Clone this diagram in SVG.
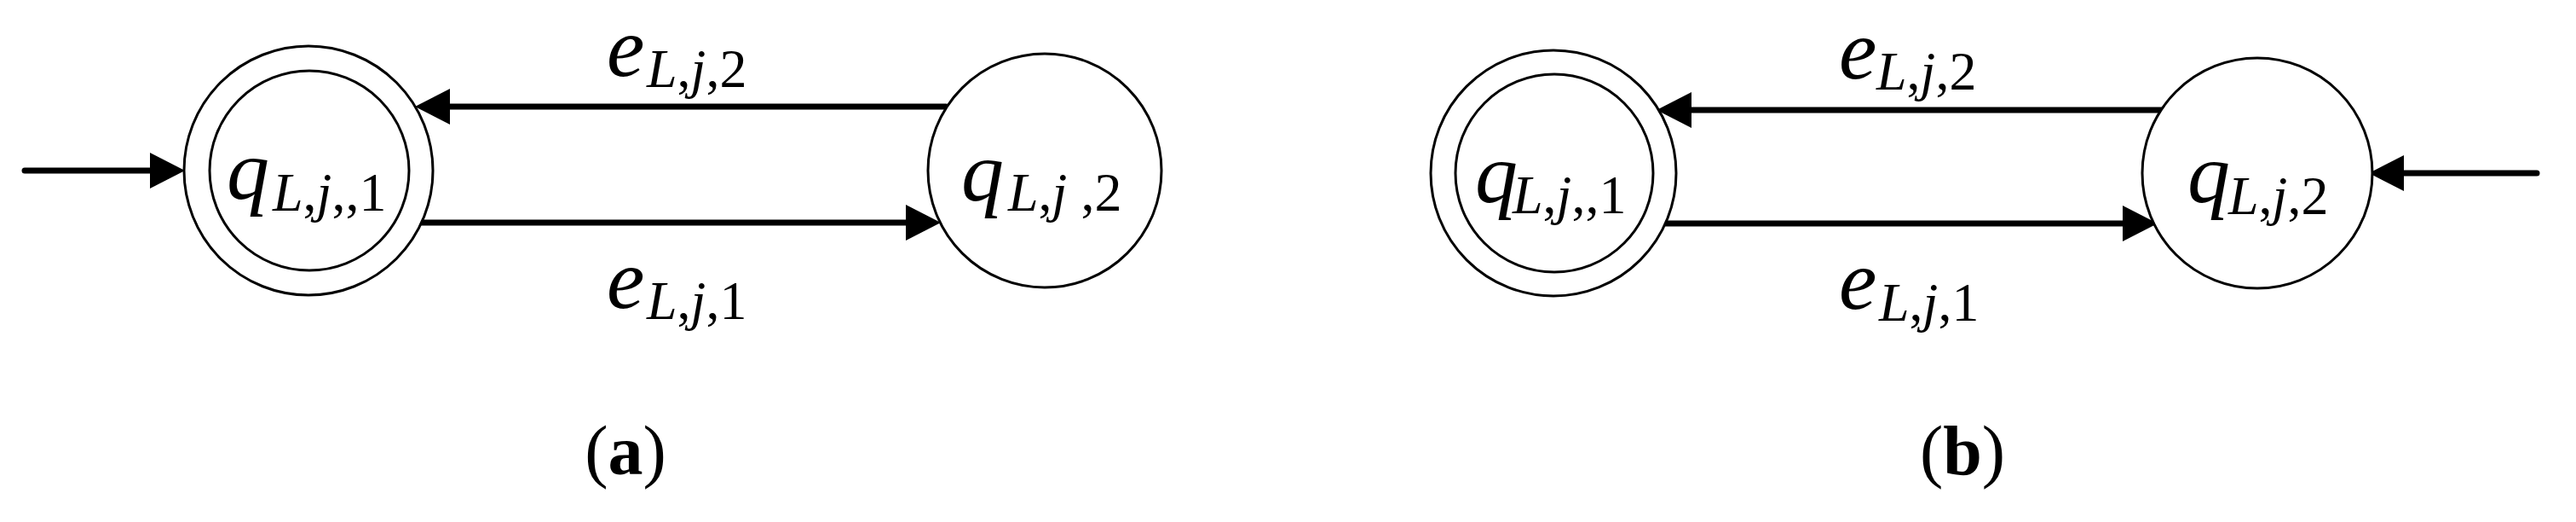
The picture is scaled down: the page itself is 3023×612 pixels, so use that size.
<svg xmlns="http://www.w3.org/2000/svg" width="3023" height="612" viewBox="0 0 3023 612">
<style>
.st{fill:#fff;stroke:#000;stroke-width:3}
.cn{stroke:#000;stroke-width:7;stroke-linecap:round;fill:none;marker-end:url(#ah)}
.m{font-family:"Liberation Serif","Times New Roman",serif;font-style:italic;fill:#000}
.big{font-size:100px}
.sub{font-size:64px}
.up{font-style:normal}
.cap{font-family:"Liberation Serif","Times New Roman",serif;font-size:82px;fill:#000;text-anchor:middle}
</style>
<defs>
<marker id="ah" markerUnits="userSpaceOnUse" markerWidth="42" markerHeight="44" refX="0" refY="21" orient="auto" overflow="visible">
<path d="M0,0 L41,21 L0,42 Z" fill="#000"/>
</marker>
</defs>
<rect width="3023" height="612" fill="#fff"/>
<g id="connectors">
<line class="cn" x1="29" y1="200" x2="176" y2="200"/>
<line class="cn" x1="1110" y1="125" x2="528" y2="125"/>
<line class="cn" x1="487" y1="261" x2="1063" y2="261"/>
<line class="cn" x1="2977" y1="203" x2="2821" y2="203"/>
<line class="cn" x1="2536" y1="129" x2="1985" y2="129"/>
<line class="cn" x1="1942" y1="262" x2="2491" y2="262"/>
</g>
<g id="a_q1">
<circle class="st" cx="362" cy="200" r="146"/>
<circle class="st" cx="363" cy="200" r="117"/>
<text class="m" x="266" y="233"><tspan class="big">q</tspan><tspan class="sub" x="320" y="247">L<tspan class="up">,</tspan>j<tspan class="up">,,1</tspan></tspan></text>
</g>
<g id="a_q2">
<circle class="st" cx="1226" cy="200" r="137"/>
<text class="m" x="1128" y="235"><tspan class="big">q</tspan><tspan class="sub" x="1183" y="247">L<tspan class="up">,</tspan>j<tspan class="up"> ,2</tspan></tspan></text>
</g>
<g id="a_labels">
<text class="m" x="712" y="89"><tspan class="big">e</tspan><tspan class="sub" x="759" y="102">L<tspan class="up">,</tspan>j<tspan class="up">,2</tspan></tspan></text>
<text class="m" x="712" y="361"><tspan class="big">e</tspan><tspan class="sub" x="759" y="374">L<tspan class="up">,</tspan>j<tspan class="up">,1</tspan></tspan></text>
<text class="cap" x="734" y="556">(<tspan font-weight="bold">a</tspan>)</text>
</g>
<g id="b_q1">
<circle class="st" cx="1823" cy="203" r="144"/>
<circle class="st" cx="1824" cy="203" r="116"/>
<text class="m" x="1731" y="237"><tspan class="big">q</tspan><tspan class="sub" x="1775" y="250">L<tspan class="up">,</tspan>j<tspan class="up">,,1</tspan></tspan></text>
</g>
<g id="b_q2">
<circle class="st" cx="2649" cy="203" r="135"/>
<text class="m" x="2567" y="237"><tspan class="big">q</tspan><tspan class="sub" x="2615" y="251">L<tspan class="up">,</tspan>j<tspan class="up">,2</tspan></tspan></text>
</g>
<g id="b_labels">
<text class="m" x="2158" y="92"><tspan class="big">e</tspan><tspan class="sub" x="2202" y="105">L<tspan class="up">,</tspan>j<tspan class="up">,2</tspan></tspan></text>
<text class="m" x="2158" y="362"><tspan class="big">e</tspan><tspan class="sub" x="2205" y="376">L<tspan class="up">,</tspan>j<tspan class="up">,1</tspan></tspan></text>
<text class="cap" x="2303" y="556">(<tspan font-weight="bold">b</tspan>)</text>
</g>
</svg>
